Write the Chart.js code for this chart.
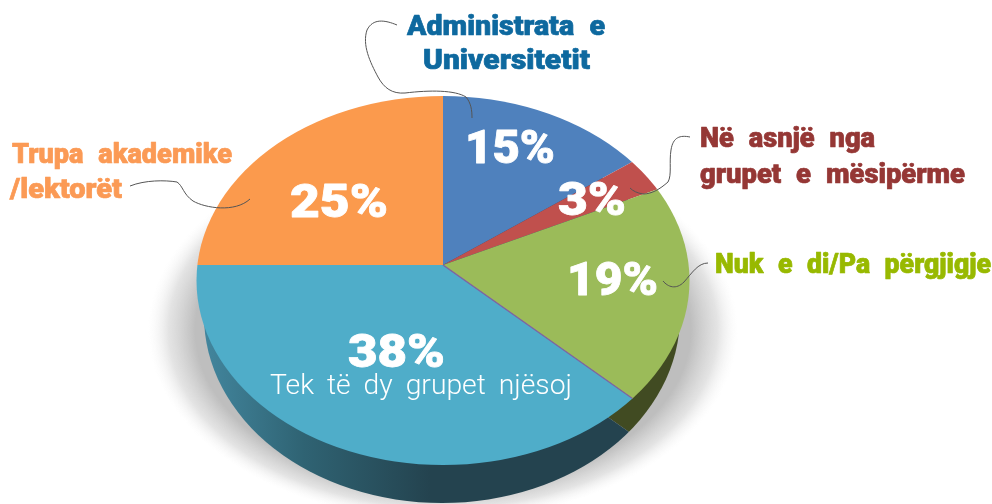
<!DOCTYPE html>
<html>
<head>
<meta charset="utf-8">
<style>html,body{margin:0;padding:0;background:#fff}canvas{display:block}</style>
<script src="https://cdn.jsdelivr.net/npm/chart.js@4/dist/chart.umd.min.js"></script>
</head>
<body>
<canvas id="c" width="992" height="504"></canvas>
<script>
const categories = ["Administrata e Universitetit","Në asnjë nga grupet e mësipërme","Nuk e di/Pa përgjigje","Tek të dy grupet njësoj","Trupa akademike /lektorët"];
const values = [15, 3, 19, 38, 25];
const colors = ["#4f81bd","#c0504d","#9bbb59","#4fadc9","#fb9a4d"];
const sideColors = ["#2c4a6e","#6e2d2b","#414b22","#24434f","#8a5222"];

// drawing configuration (page geometry, not data)
const TILT = 0.75, DEPTH = 36;
const topEllipse = {x:443, y:280.5, rx:246.5, ry:184.5};
const baseEllipse = {x:442, y:316, rx:238, ry:187};
const pctSpots = [
  {x:465,y:163,w:90},{x:558,y:215,w:68},{x:567,y:295,w:91},{x:348,y:367,w:97},{x:290,y:217,w:98}
];
const captions = [
  {t:"Administrata e",x:407,y:35,w:198,f:"900 28px Roboto",c:"#0e699f",b:0.7,s:8},
  {t:"Universitetit",x:423,y:69,w:167,f:"900 28px Roboto",c:"#0e699f",b:0.7,s:0},
  {t:"Në asnjë nga",x:700,y:147,w:175,f:"900 27px Roboto",c:"#953735",b:0.7,s:8},
  {t:"grupet e mësipërme",x:700,y:183,w:265,f:"900 27px Roboto",c:"#953735",b:0.7,s:8},
  {t:"Nuk e di/Pa përgjigje",x:715,y:273,w:276,f:"900 27px Roboto",c:"#98b900",b:0.7,s:8},
  {t:"Trupa akademike",x:12,y:163,w:220,f:"900 27px Roboto",c:"#fb9a55",b:0.7,s:8},
  {t:"/lektorët",x:10,y:198,w:112,f:"900 27px Roboto",c:"#fb9a55",b:0.7,s:0},
  {t:"Tek të dy grupet njësoj",x:270,y:394,w:302,f:"300 28px Roboto",c:"#ffffff",b:0,s:6}
];
const leaders = [
  [[397,25],[385,20],[373,18],[367,30],[362,45],[370,62],[378,77],[384,88],[392,94],[405,93],[430,90],[455,90],[466,97],[471,103],[472,110],[472,118]],
  [[690,137],[680,135],[673,137],[671,150],[669,162],[672,175],[668,182],[660,189],[652,194],[643,194],[637,193],[633,191],[630,188]],
  [[708,263],[698,263],[692,273],[684,282],[676,290],[668,287],[663,281]],
  [[130,186],[145,180],[165,180],[177,182],[183,186],[183,194],[193,201],[205,208],[235,213],[250,199]]
];

function ellipsePath(ctx,e){ctx.beginPath();ctx.ellipse(e.x,e.y,e.rx,e.ry,0,0,Math.PI*2);}
function wedge(ctx,a){
  ctx.beginPath();ctx.moveTo(a.x,a.y);
  ctx.arc(a.x,a.y,a.outerRadius,a.startAngle,a.endAngle);
  ctx.closePath();
}
function tilted(ctx,a,dy,fn){
  ctx.save();
  ctx.translate(a.x,a.y+dy);ctx.scale(1,TILT);ctx.translate(-a.x,-a.y);
  fn();ctx.restore();
}

const pie3d = {
  id:"pie3d",
  beforeDatasetDraw(chart,args){
    const ctx = chart.ctx, arcs = args.meta.data;
    // soft shadow as an elliptical radial fade
    ctx.save();
    ctx.translate(443,330);ctx.scale(1,178/275);
    const sh = ctx.createRadialGradient(0,0,0,0,0,295);
    sh.addColorStop(0,"rgba(190,190,190,1)");
    sh.addColorStop(0.84,"rgba(190,190,190,1)");
    sh.addColorStop(0.93,"rgba(205,205,205,0.55)");
    sh.addColorStop(1,"rgba(240,240,240,0)");
    ctx.fillStyle=sh;
    ctx.beginPath();ctx.arc(0,0,295,0,Math.PI*2);ctx.fill();
    ctx.restore();
    // side wall
    const grad = ctx.createLinearGradient(200,0,430,0);
    grad.addColorStop(0,"#43879f");grad.addColorStop(0.45,"#2f6373");grad.addColorStop(1,"#24434f");
    ctx.save();
    ellipsePath(ctx,baseEllipse);ctx.clip();
    arcs.forEach((a,i)=>{
      tilted(ctx,a,DEPTH,()=>{
        wedge(ctx,a);
        ctx.fillStyle = i===3 ? grad : sideColors[i];
        ctx.fill();
      });
    });
    ctx.restore();
    // top surface
    ctx.save();
    ellipsePath(ctx,topEllipse);ctx.clip();
    arcs.forEach(a=>tilted(ctx,a,0,()=>a.draw(ctx)));
    // thin seam between green and cyan
    const s = arcs[3];
    tilted(ctx,s,0,()=>{
      ctx.beginPath();ctx.moveTo(s.x,s.y);
      ctx.lineTo(s.x+s.outerRadius*Math.cos(s.startAngle),s.y+s.outerRadius*Math.sin(s.startAngle));
      ctx.strokeStyle="#8064a2";ctx.lineWidth=1.4;ctx.stroke();
    });
    ctx.restore();
    return false;
  },
  afterDraw(chart){
    const ctx = chart.ctx;
    // leader lines
    ctx.save();
    ctx.strokeStyle="#555";ctx.lineWidth=1;
    leaders.forEach(p=>{
      ctx.beginPath();ctx.moveTo(p[0][0],p[0][1]);
      for(let i=1;i+2<p.length;i+=3)ctx.bezierCurveTo(p[i][0],p[i][1],p[i+1][0],p[i+1][1],p[i+2][0],p[i+2][1]);
      ctx.stroke();
    });
    ctx.restore();
    const fit=(t,x,y,w,font,color,bold,space)=>{
      ctx.save();ctx.font=font;ctx.fillStyle=color;ctx.textBaseline="alphabetic";ctx.textAlign="left";
      ctx.wordSpacing=space+"px";
      const m=ctx.measureText(t).width;
      ctx.translate(x,y);ctx.scale(w/m,1);ctx.fillText(t,0,0);
      if(bold){ctx.strokeStyle=color;ctx.lineWidth=bold;ctx.lineJoin="round";ctx.strokeText(t,0,0);}
      ctx.restore();
    };
    values.forEach((v,i)=>{
      const s=pctSpots[i];
      fit(v+"%",s.x,s.y,s.w,"900 46px Roboto","#ffffff",0.8,0);
    });
    captions.forEach(c=>fit(c.t,c.x,c.y,c.w,c.f,c.c,c.b,c.s));
  }
};

new Chart(document.getElementById("c"),{
  type:"pie",
  data:{labels:categories,datasets:[{data:values,backgroundColor:colors,borderWidth:0,hoverOffset:0}]},
  options:{
    responsive:false,animation:false,radius:300,
    layout:{padding:{left:0,right:106,top:26,bottom:0}},
    plugins:{legend:{display:false},tooltip:{enabled:false}}
  },
  plugins:[pie3d]
});
</script>
</body>
</html>
